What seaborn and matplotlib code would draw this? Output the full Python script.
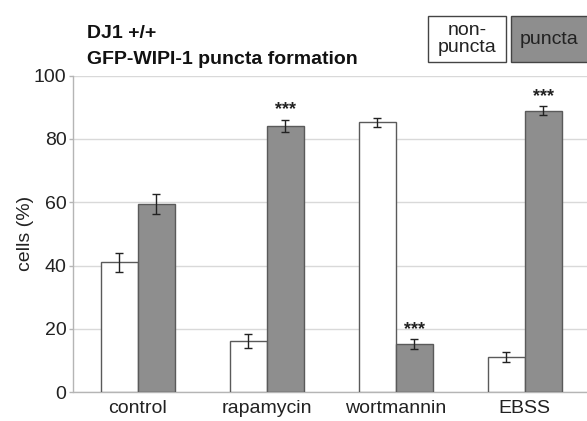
import matplotlib
matplotlib.use("Agg")
import matplotlib.pyplot as plt
from matplotlib.patches import Rectangle
import seaborn as sns
import pandas as pd

# ---- data ----
categories = ["control", "rapamycin", "wortmannin", "EBSS"]
series_names = ["non-puncta", "puncta"]
non_puncta = [41.0, 16.1, 85.2, 11.2]
puncta = [59.5, 84.1, 15.2, 88.9]
non_puncta_err = [3.0, 2.2, 1.5, 1.6]
puncta_err = [3.1, 2.0, 1.6, 1.5]
significance = {("rapamycin", "puncta"): "***",
                ("wortmannin", "puncta"): "***",
                ("EBSS", "puncta"): "***"}
y_ticks = [0, 20, 40, 60, 80, 100]
title_line1 = "DJ1 +/+"
title_line2 = "GFP-WIPI-1 puncta formation"
y_label = "cells (%)"

df = pd.DataFrame({
    "treatment": categories * 2,
    "state": [series_names[0]] * 4 + [series_names[1]] * 4,
    "value": non_puncta + puncta,
    "err": non_puncta_err + puncta_err,
})

sns.set_theme(style="white")
plt.rcParams["font.family"] = ["Liberation Sans", "DejaVu Sans"]

W, H = 587, 421
fig = plt.figure(figsize=(W / 100, H / 100), dpi=100)
left, right, top, bottom = 73.5, 589, 75.5, 392.3
ax = fig.add_axes([left / W, 1 - bottom / H, (right - left) / W, (bottom - top) / H])

gray = "#8e8e8e"
sns.barplot(data=df, x="treatment", y="value", hue="state", order=categories,
            hue_order=series_names, palette={series_names[0]: "white", series_names[1]: gray},
            width=0.575, gap=0, edgecolor="#5a5a5a", linewidth=1.0, legend=False,
            errorbar=None, ax=ax, zorder=3)

errs = {series_names[0]: non_puncta_err, series_names[1]: puncta_err}
for name, cont in zip(series_names, ax.containers):
    for cat, bar, e in zip(categories, cont, errs[name]):
        cx = bar.get_x() + bar.get_width() / 2
        h = bar.get_height()
        ax.errorbar(cx, h, yerr=e, fmt="none", ecolor="#222222", elinewidth=1.0,
                    capsize=3, capthick=1.0, zorder=4)
        if (cat, name) in significance:
            ax.text(cx, h + e + 1.6, significance[(cat, name)], ha="center", va="baseline",
                    fontsize=13, fontweight="bold", color="#222222")

ax.set_xlim(-0.5, 3.5)
ax.set_ylim(0, 100)
ax.set_yticks(y_ticks)
ax.set_xlabel("")
ax.set_ylabel("")
ax.yaxis.grid(True, color="#d9d9d9", linewidth=1.0, zorder=0)
ax.xaxis.grid(False)
ax.set_axisbelow(True)
for s in ["top", "right"]:
    ax.spines[s].set_visible(False)
for s in ["left", "bottom"]:
    ax.spines[s].set_color("#b5b5b5")
    ax.spines[s].set_linewidth(1.0)
ax.tick_params(axis="y", left=True, length=3, width=1, color="#b5b5b5", pad=2,
               labelsize=14, labelcolor="#222222")
ax.tick_params(axis="x", bottom=False, length=0, pad=5.5, labelsize=14, labelcolor="#222222")

# ylabel and titles
fig.text(25 / W, 1 - 233 / H, y_label, rotation=90, ha="center", va="center",
         fontsize=14, color="#222222")
fig.text(87 / W, 1 - 37.5 / H, title_line1, ha="left", va="baseline",
         fontsize=14, fontweight="bold", color="#111111")
fig.text(87 / W, 1 - 64.4 / H, title_line2, ha="left", va="baseline",
         fontsize=14, fontweight="bold", color="#111111")

# legend boxes
fig.add_artist(Rectangle((428 / W, 1 - 62 / H), 78 / W, 46 / H, transform=fig.transFigure,
                         facecolor="white", edgecolor="#444444", linewidth=1.0))
fig.add_artist(Rectangle((511 / W, 1 - 62 / H), 80 / W, 46 / H, transform=fig.transFigure,
                         facecolor=gray, edgecolor="#444444", linewidth=1.0))
fig.text(467 / W, 1 - 39 / H, "non-\npuncta", ha="center", va="center",
         fontsize=14, color="#222222", linespacing=1.0)
fig.text(549 / W, 1 - 39 / H, "puncta", ha="center", va="center",
         fontsize=14, color="#222222")

fig.savefig("out.png", dpi=100)
